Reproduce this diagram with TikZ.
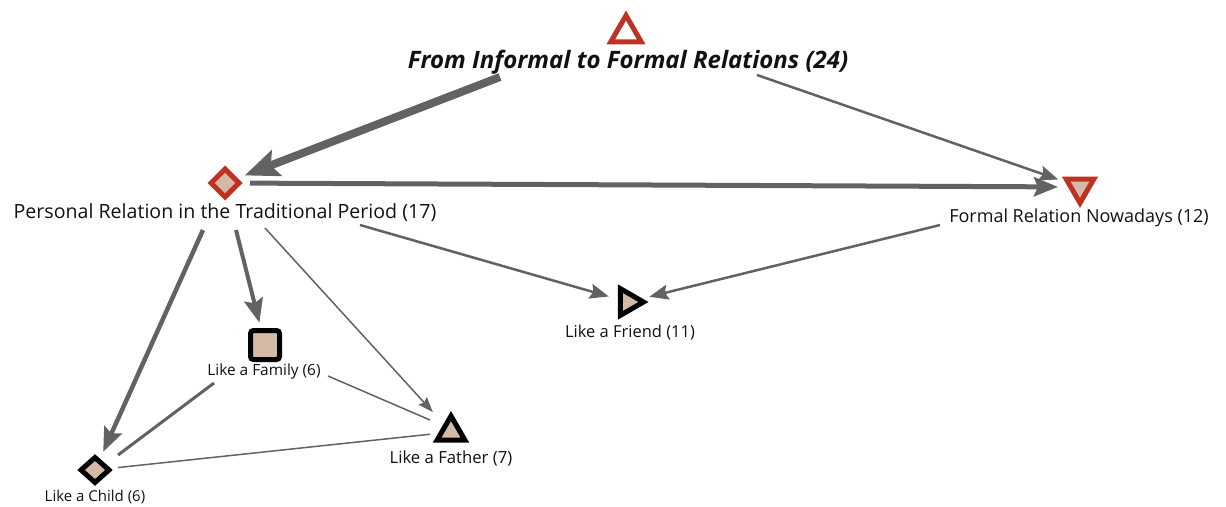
\documentclass[tikz,border=0pt]{standalone}
\usepackage{fontspec}
\setmainfont{Open Sans}
\usetikzlibrary{arrows.meta,shapes.geometric,calc}
\definecolor{codered}{RGB}{190,50,36}
\definecolor{codetan}{RGB}{212,186,166}
\definecolor{linkgray}{RGB}{98,98,98}
\definecolor{inkblack}{RGB}{17,17,17}
\newcommand{\pxfont}[1]{\fontsize{#1}{#1}\selectfont}
\tikzset{
  x=1pt, y=-1pt,
  lbl/.style={inner sep=0pt, text=inkblack},
  redmark/.style={draw=codered, line width=5pt, fill=codetan, inner sep=0pt},
  blackmark/.style={draw=black, line width=5pt, fill=codetan, inner sep=0pt},
  link/.style={draw=linkgray},
  headXL/.style={-{Stealth[length=34pt,width=27pt,inset=6pt]}},
  headL/.style={-{Stealth[length=24pt,width=19pt,inset=4pt]}},
  headM/.style={-{Stealth[length=19pt,width=15pt,inset=3pt]}},
  headS/.style={-{Stealth[length=15pt,width=11pt,inset=2pt]}},
}
\begin{document}
\begin{tikzpicture}
\useasboundingbox (0,0) rectangle (1226,506);

% theme marks
\node[regular polygon, regular polygon sides=3, minimum size=35pt,
      draw=codered, line width=5pt, fill=white, inner sep=0pt] (top) at (626,33) {};
\node[lbl, font=\pxfont{24}\bfseries\itshape]
      (ttl) at (628,62) {From Informal to Formal Relations (24)};

\node[diamond, redmark, minimum width=30pt, minimum height=30pt] (pers) at (225,183) {};
\node[lbl, font=\pxfont{19.6}] (plbl) at (225,213) {Personal Relation in the Traditional Period (17)};

\node[regular polygon, regular polygon sides=3, shape border rotate=180,
      redmark, minimum size=32pt] (fnow) at (1080,187) {};
\node[lbl, font=\pxfont{18}] (flbl) at (1079,218) {Formal Relation Nowadays (12)};

% sub-themes
\node[regular polygon, regular polygon sides=3, shape border rotate=-90,
      blackmark, minimum size=31pt] (friend) at (628,302) {};
\node[lbl, font=\pxfont{16.5}] (frlbl) at (630,333) {Like a Friend (11)};

\node[rectangle, rounded corners=3pt, blackmark, minimum size=29pt] (fam) at (265,345) {};
\node[lbl, font=\pxfont{15.4}] (famlbl) at (264,371) {Like a Family (6)};

\node[regular polygon, regular polygon sides=3, blackmark, minimum size=32pt] (father) at (451,432) {};
\node[lbl, font=\pxfont{16.7}] (fatlbl) at (451,458) {Like a Father (7)};

\node[diamond, blackmark, minimum width=30pt, minimum height=27pt] (child) at (95,470) {};
\node[lbl, font=\pxfont{15}] (chlbl) at (95,497) {Like a Child (6)};

% arrows
\draw[link, line width=8pt, headXL, shorten >=21pt]
  ([shift={(-128,15)}]ttl.center) -- (pers.center);
\draw[link, line width=2.5pt, headM, shorten >=23pt]
  ([shift={(129,13)}]ttl.center) -- (fnow.center);
\draw[link, line width=5pt, headL, shorten <=25pt, shorten >=22pt]
  (pers.center) -- (fnow.center);
\draw[link, line width=2.5pt, headM, shorten >=20pt]
  ([shift={(135,12)}]plbl.center) -- (friend.center);
\draw[link, line width=2.5pt, headM, shorten >=22pt]
  ([shift={(-139,7)}]flbl.center) -- (friend.center);
\draw[link, line width=4.5pt, headL, shorten >=20pt]
  ([shift={(-22,17)}]plbl.center) -- (child.center);
\draw[link, line width=4pt, headL, shorten >=23pt]
  ([shift={(11,17)}]plbl.center) -- (fam.center);
\draw[link, line width=1.5pt, headS, shorten >=27pt]
  ([shift={(40,15)}]plbl.center) -- (father.center);

% plain links
\draw[link, line width=1.5pt]
  ([shift={(64,5)}]famlbl.center) -- ([shift={(-21,-12)}]father.center);
\draw[link, line width=3pt]
  ([shift={(-50,12)}]famlbl.center) -- ([shift={(23,-15)}]child.center);
\draw[link, line width=1.5pt, shorten <=23pt, shorten >=21pt]
  (child.center) -- (father.center);
\end{tikzpicture}
\end{document}
